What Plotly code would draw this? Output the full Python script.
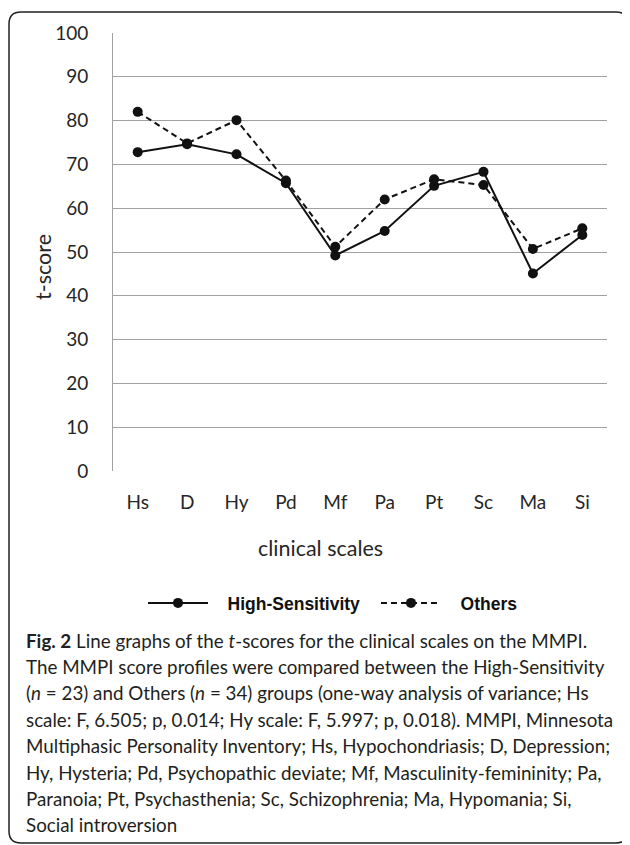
import plotly.graph_objects as go

# ---- data ----
scales = ["Hs", "D", "Hy", "Pd", "Mf", "Pa", "Pt", "Sc", "Ma", "Si"]
high_sensitivity = [72.8, 74.6, 72.3, 65.7, 49.2, 54.8, 65.1, 68.3, 45.1, 53.9]
others = [82.0, 74.8, 80.1, 66.3, 51.2, 62.0, 66.6, 65.3, 50.7, 55.4]
y_ticks = [0, 10, 20, 30, 40, 50, 60, 70, 80, 90, 100]

caption_lines = [
    "<b>Fig. 2</b> Line graphs of the <i>t</i>-scores for the clinical scales on the MMPI.",
    "The MMPI score profiles were compared between the High-Sensitivity",
    "(<i>n</i> = 23) and Others (<i>n</i> = 34) groups (one-way analysis of variance; Hs",
    "scale: F, 6.505; p, 0.014; Hy scale: F, 5.997; p, 0.018). MMPI, Minnesota",
    "Multiphasic Personality Inventory; Hs, Hypochondriasis; D, Depression;",
    "Hy, Hysteria; Pd, Psychopathic deviate; Mf, Masculinity-femininity; Pa,",
    "Paranoia; Pt, Psychasthenia; Sc, Schizophrenia; Ma, Hypomania; Si,",
    "Social introversion",
]

OFF = 8  # page body margin
W, H = 630, 845
L, R, T, B = 113, 607, 33, 471   # plot area in screen pixels
pw, ph = R - L, B - T


def px(x):
    return (x - L) / pw


def py(y):
    return (B - y) / ph


NB = "\u00a0" * 3
fig = go.Figure()
fig.add_trace(go.Scatter(
    x=scales, y=high_sensitivity, name=NB + "High-Sensitivity", mode="lines+markers",
    line=dict(color="#111111", width=2), marker=dict(size=10, color="#111111"),
))
fig.add_trace(go.Scatter(
    x=scales, y=others, name=NB + "Others", mode="lines+markers",
    line=dict(color="#111111", width=2, dash="6px,4px"), marker=dict(size=10, color="#111111"),
))

tick_font = dict(family="Lato, Carlito, sans-serif", size=19, color="#262626")
title_font = dict(family="Lato, sans-serif", size=21.5, color="#262626")

fig.update_layout(
    width=W, height=H,
    margin=dict(l=L - OFF, r=W - (L - OFF) - pw, t=T - OFF, b=H - (T - OFF) - ph),
    paper_bgcolor="white", plot_bgcolor="white",
    showlegend=True,
    legend=dict(
        orientation="h", x=px(143), y=py(603), xanchor="left", yanchor="middle",
        font=dict(family="Arial, Liberation Sans, sans-serif", size=17.5, color="#111111", weight="bold"),
        itemwidth=60, entrywidth=158, entrywidthmode="pixels",
        bgcolor="rgba(0,0,0,0)", tracegroupgap=0,
    ),
    xaxis=dict(
        type="category", range=[-0.5, 9.5], showgrid=False, showline=False, zeroline=False,
        ticks="", tickfont=tick_font, ticklabelstandoff=18,
    ),
    yaxis=dict(
        range=[0, 100], tickvals=y_ticks, showgrid=True, gridcolor="#a0a0a0", gridwidth=1,
        showline=True, linecolor="#a0a0a0", linewidth=1, zeroline=False, ticks="",
        tickfont=tick_font, ticklabelstandoff=20,
    ),
)

# axis titles placed like the original
fig.add_annotation(
    text="t-score", xref="paper", yref="paper", x=px(43), y=py(267),
    xanchor="center", yanchor="middle", textangle=-90, showarrow=False, font=title_font,
)
fig.add_annotation(
    text="clinical scales", xref="paper", yref="paper", x=px(320), y=py(548),
    xanchor="center", yanchor="middle", showarrow=False, font=title_font,
)

# rounded frame around the figure
x0, x1, y0, y1, r = px(9), px(628), py(12), py(843), 12
rx, ry = r / pw, r / ph
path = (f"M {x0+rx},{y0} L {x1-rx},{y0} Q {x1},{y0} {x1},{y0-ry} "
        f"L {x1},{y1+ry} Q {x1},{y1} {x1-rx},{y1} L {x0+rx},{y1} "
        f"Q {x0},{y1} {x0},{y1+ry} L {x0},{y0-ry} Q {x0},{y0} {x0+rx},{y0} Z")
fig.add_shape(type="path", path=path, xref="paper", yref="paper",
              line=dict(color="#222222", width=1.5), fillcolor="rgba(0,0,0,0)", layer="below")

line_y = [640, 666, 692, 719, 745, 772, 798, 824]
for txt, yy in zip(caption_lines, line_y):
    fig.add_annotation(
        text=txt, xref="paper", yref="paper", x=px(24), y=py(yy),
        xanchor="left", yanchor="middle", showarrow=False, align="left",
        font=dict(family="Lato, Open Sans, sans-serif", size=18.8, color="#231f20"),
    )

fig.write_html("out.html")
